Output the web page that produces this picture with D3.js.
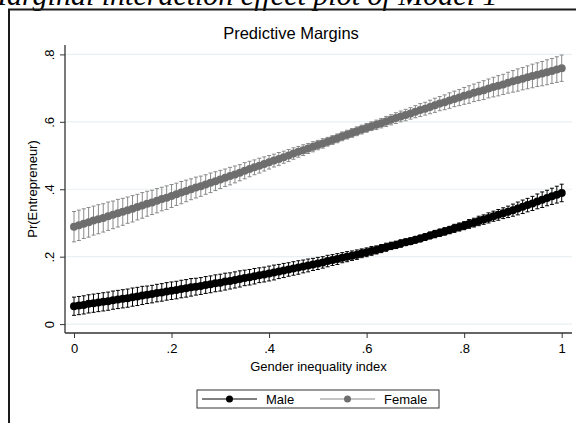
<!DOCTYPE html>
<html>
<head>
<meta charset="utf-8">
<script src="https://cdn.jsdelivr.net/npm/d3@7"></script>
<style>
  body { margin: 0; background: #fff; }
  svg { display: block; }
  text { font-family: "Liberation Sans", Arial, sans-serif; fill: #000; }
</style>
</head>
<body>
<div id="chart"></div>
<script>
// gender inequality index values (margins at .01 steps)
const xs = d3.range(101).map(i => i / 100);

const maleMean = [
  .053, .055, .057, .060, .062, .064, .066, .068, .071, .073, .075,
  .077, .080, .082, .085, .087, .089, .092, .094, .097, .099,
  .101, .104, .106, .109, .111, .113, .116, .118, .121, .123,
  .126, .128, .131, .134, .137, .139, .142, .145, .147, .150,
  .153, .156, .159, .162, .165, .168, .171, .174, .177, .180,
  .183, .187, .190, .193, .197, .200, .203, .206, .210, .213,
  .217, .220, .224, .228, .232, .235, .239, .243, .246, .250,
  .254, .258, .263, .267, .271, .275, .279, .284, .288, .292,
  .297, .301, .306, .310, .315, .320, .324, .329, .333, .338,
  .343, .348, .353, .358, .364, .369, .374, .379, .384, .389
];
const maleCI = [
  .027, .027, .027, .027, .027, .027, .027, .027, .027, .027, .027,
  .027, .027, .027, .027, .026, .026, .026, .026, .026, .026,
  .026, .026, .026, .026, .025, .025, .025, .025, .025, .025,
  .025, .024, .024, .024, .023, .023, .023, .022, .022, .022,
  .022, .021, .021, .020, .020, .020, .019, .019, .018, .018,
  .017, .017, .016, .016, .015, .015, .014, .014, .013, .013,
  .013, .012, .012, .012, .011, .011, .011, .010, .010, .010,
  .010, .010, .010, .011, .011, .011, .011, .012, .012, .012,
  .013, .013, .014, .014, .015, .015, .016, .016, .017, .018,
  .019, .020, .020, .021, .022, .023, .023, .024, .025, .026
];
const femaleMean = [
  .289, .293, .298, .302, .307, .311, .315, .320, .324, .329, .333,
  .338, .342, .347, .352, .357, .361, .366, .371, .375, .380,
  .385, .390, .395, .400, .405, .409, .414, .419, .424, .429,
  .434, .439, .444, .449, .455, .460, .465, .470, .475, .480,
  .485, .490, .495, .500, .506, .511, .516, .521, .526, .531,
  .536, .541, .546, .551, .557, .562, .567, .572, .577, .582,
  .587, .591, .596, .601, .606, .611, .616, .620, .625, .630,
  .635, .639, .644, .649, .654, .658, .663, .668, .672, .677,
  .681, .686, .690, .694, .699, .703, .707, .711, .716, .720,
  .724, .728, .732, .736, .740, .743, .747, .751, .755, .759
];
const femaleCI = [
  .045, .045, .044, .044, .043, .043, .042, .042, .041, .041, .040,
  .039, .039, .038, .038, .037, .036, .036, .035, .035, .034,
  .033, .033, .032, .031, .031, .030, .029, .029, .028, .027,
  .026, .026, .025, .024, .024, .023, .022, .022, .021, .020,
  .019, .019, .018, .018, .017, .016, .016, .015, .015, .014,
  .014, .013, .013, .013, .013, .013, .013, .013, .013, .013,
  .013, .014, .014, .015, .015, .016, .016, .017, .017, .018,
  .019, .019, .020, .021, .021, .022, .023, .023, .024, .025,
  .026, .026, .027, .028, .028, .029, .030, .030, .031, .032,
  .033, .033, .034, .035, .035, .036, .037, .037, .038, .039
];

const xTicks = [0, .2, .4, .6, .8, 1];
const yTicks = [0, .2, .4, .6, .8];
const seriesNames = ["Male", "Female"];

/** CONSTANTS */
const width = 576,
    height = 423,
    plot = { left: 65, right: 572, top: 45, bottom: 333 };

const series = [
  { name: seriesNames[0], mean: maleMean, ci: maleCI, dot: "#000", line: "#000", bar: "#000" },
  { name: seriesNames[1], mean: femaleMean, ci: femaleCI, dot: "#6e6e6e", line: "#6e6e6e", bar: "#8a8a8a" }
];

/** SCALES */
const xScale = d3.scaleLinear().domain([0, 1]).range([74, 561.7]);
const yScale = d3.scaleLinear().domain([0, 0.8]).range([324.1, 54.4]);

const fmt = d => (d === 0 || d === 1) ? String(d) : String(d).replace("0.", ".");

const svg = d3.select("#chart")
    .append("svg")
    .attr("width", width)
    .attr("height", height);

// caption, mostly cut off by the top of the page
svg.append("text")
    .attr("x", -18)
    .attr("y", 5)
    .style("font-family", "'Liberation Serif', 'Times New Roman', serif")
    .style("font-style", "italic")
    .style("font-size", "30px")
    .text("Marginal interaction effect plot of Model 1");

// outer graph frame
svg.append("path")
    .attr("d", `M9,${height + 5} L9,9.5 L${width + 5},9.5`)
    .attr("fill", "none")
    .attr("stroke", "#1a1a1a")
    .attr("stroke-width", 2);

svg.append("text")
    .attr("x", 291)
    .attr("y", 39)
    .attr("text-anchor", "middle")
    .style("font-size", "16.5px")
    .text("Predictive Margins");

// grid
svg.append("g")
    .selectAll("line")
    .data(yTicks)
    .join("line")
    .attr("x1", plot.left)
    .attr("x2", plot.right)
    .attr("y1", d => yScale(d))
    .attr("y2", d => yScale(d))
    .attr("stroke", "#e8f0f2")
    .attr("stroke-width", 1.2);

// axes
const yAxis = d3.axisLeft(yScale).tickValues(yTicks).tickSize(5).tickFormat(fmt);
const xAxis = d3.axisBottom(xScale).tickValues(xTicks).tickSize(5).tickFormat(fmt);

const gy = svg.append("g")
    .attr("transform", `translate(${plot.left},0)`)
    .call(yAxis);
gy.select(".domain").attr("d", `M0,${plot.top}V${plot.bottom}`);
gy.selectAll(".tick text")
    .attr("x", 0).attr("dy", 0)
    .attr("text-anchor", "middle")
    .attr("transform", "translate(-11,0) rotate(-90)")
    .style("font-size", "13px");

const gx = svg.append("g")
    .attr("transform", `translate(0,${plot.bottom})`)
    .call(xAxis);
gx.select(".domain").attr("d", `M${plot.left},0H${plot.right}`);
gx.selectAll(".tick text").attr("y", 11).style("font-size", "13px");

svg.selectAll(".domain").attr("stroke", "#333").attr("stroke-width", 1.3);
svg.selectAll(".tick line").attr("stroke", "#333");
svg.selectAll(".tick text").attr("font-family", null);

svg.append("text")
    .attr("transform", `translate(37,${(plot.top + plot.bottom) / 2}) rotate(-90)`)
    .attr("text-anchor", "middle")
    .style("font-size", "13px")
    .text("Pr(Entrepreneur)");

svg.append("text")
    .attr("x", (plot.left + plot.right) / 2)
    .attr("y", 371)
    .attr("text-anchor", "middle")
    .style("font-size", "13px")
    .text("Gender inequality index");

// confidence intervals as capped bars
const cap = 2;
series.forEach(s => {
  const g = svg.append("g")
      .attr("stroke", s.bar)
      .attr("stroke-width", 1)
      .attr("fill", "none");
  g.selectAll("path")
      .data(xs.map((x, i) => ({ x, lo: s.mean[i] - s.ci[i], hi: s.mean[i] + s.ci[i] })))
      .join("path")
      .attr("d", d => {
        const x = xScale(d.x), y0 = yScale(d.lo), y1 = yScale(d.hi);
        return `M${x},${y0}V${y1}M${x - cap},${y1}H${x + cap}M${x - cap},${y0}H${x + cap}`;
      });
});

// lines with markers
series.forEach(s => {
  const pts = xs.map((x, i) => ({ x, y: s.mean[i] }));
  svg.append("path")
      .datum(pts)
      .attr("fill", "none")
      .attr("stroke", s.line)
      .attr("stroke-width", 1)
      .attr("d", d3.line().x(d => xScale(d.x)).y(d => yScale(d.y)));
  svg.append("g")
      .selectAll("circle")
      .data(pts)
      .join("circle")
      .attr("cx", d => xScale(d.x))
      .attr("cy", d => yScale(d.y))
      .attr("r", 4)
      .attr("fill", s.dot);
});

// legend
const lg = svg.append("g");
lg.append("rect")
    .attr("x", 197).attr("y", 390)
    .attr("width", 242).attr("height", 18)
    .attr("fill", "#fff")
    .attr("stroke", "#333")
    .attr("stroke-width", 1);

const legendX = [202, 320];
series.forEach((s, i) => {
  const x0 = legendX[i];
  lg.append("line")
      .attr("x1", x0).attr("x2", x0 + 55)
      .attr("y1", 399).attr("y2", 399)
      .attr("stroke", i === 0 ? "#000" : "#8a8a8a")
      .attr("stroke-width", 1);
  lg.append("circle")
      .attr("cx", x0 + 27.5).attr("cy", 399)
      .attr("r", 3.5)
      .attr("fill", s.dot);
  lg.append("text")
      .attr("x", x0 + 64)
      .attr("y", 403.5)
      .style("font-size", "13px")
      .text(s.name);
});
</script>
</body>
</html>
